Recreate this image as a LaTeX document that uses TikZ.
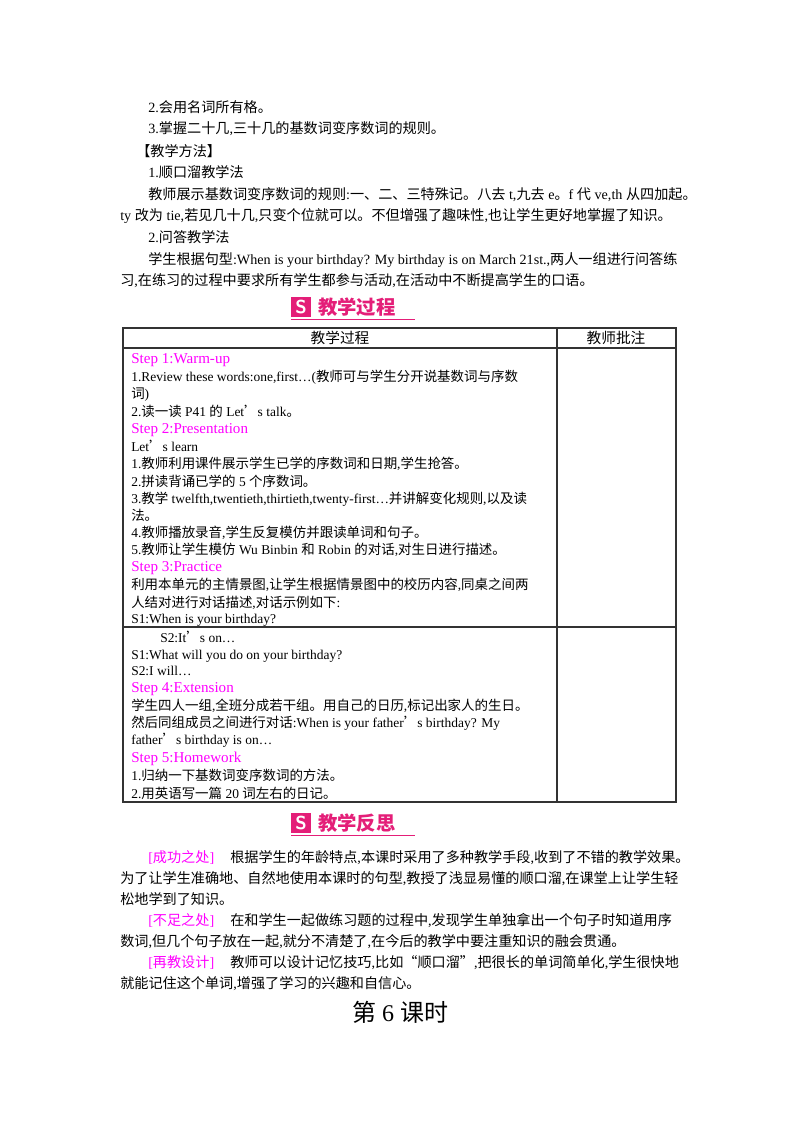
\documentclass[tikz,border=0pt]{standalone}
\usepackage{fontspec}
\setmainfont{Liberation Serif}
\newfontfamily\lat{Liberation Serif}
\newfontfamily\cjk{Noto Sans CJK SC}
\newcount\cc
\newXeTeXintercharclass\cjkcls
\cc="4E00 \loop \XeTeXcharclass\cc=\cjkcls \advance\cc 1 \ifnum\cc<"A000 \repeat
\cc="3000 \loop \XeTeXcharclass\cc=\cjkcls \advance\cc 1 \ifnum\cc<"3040 \repeat
\cc="FF00 \loop \XeTeXcharclass\cc=\cjkcls \advance\cc 1 \ifnum\cc<"FFF0 \repeat
\XeTeXcharclass"2018=\cjkcls \XeTeXcharclass"2019=\cjkcls
\XeTeXcharclass"201C=\cjkcls \XeTeXcharclass"201D=\cjkcls
\XeTeXinterchartoks 0 \cjkcls={\cjk}
\XeTeXinterchartoks 4095 \cjkcls={\cjk}
\XeTeXinterchartoks \cjkcls 0={\lat}
\XeTeXinterchartoks \cjkcls 4095={\lat}
\XeTeXinterchartokenstate=1
\definecolor{mag}{RGB}{255,0,255}
\definecolor{badge}{RGB}{228,30,120}
\tikzset{
 t/.style={anchor=base west,inner sep=0pt,font=\fontsize{10.6}{12}\selectfont},
 tt/.style={anchor=base west,inner sep=0pt,font=\fontsize{10.1}{11}\selectfont},
 st/.style={anchor=base west,inner sep=0pt,text=mag,font=\fontsize{11.3}{12}\selectfont},
 rule/.style={line width=0.8pt,draw=black!80},
}
\begin{document}
\begin{tikzpicture}[x=0.75pt,y=-0.75pt]
\useasboundingbox[fill=white] (0,0) rectangle (800,1132);
% intro
\node[t] (a1) at (148,112) {2.会用名词所有格。};
\node[t] (a2) at (148,133) {3.掌握二十几,三十几的基数词变序数词的规则。};
\node[t] (a3) at (136,156) {【教学方法】};
\node[t] (a4) at (148,177) {1.顺口溜教学法};
\node[t] (a5) at (148,199) {教师展示基数词变序数词的规则:一、二、三特殊记。八去 t,九去 e。f 代 ve,th 从四加起。};
\node[t] (a6) at (120,220) {ty 改为 tie,若见几十几,只变个位就可以。不但增强了趣味性,也让学生更好地掌握了知识。};
\node[t] (a7) at (148,242) {2.问答教学法};
\node[t] (a8) at (148,264) {学生根据句型:When is your birthday? My birthday is on March 21st.,两人一组进行问答练};
\node[t] (a9) at (120,285) {习,在练习的过程中要求所有学生都参与活动,在活动中不断提高学生的口语。};
% badge 1
\fill[badge] (291,297) rectangle (311,317);
\node[inner sep=0,text=white,font=\sffamily\bfseries\fontsize{14}{14}\selectfont] (b1i) at (301,307) {S};
\node[anchor=west,inner sep=0,text=badge,font=\bfseries\fontsize{14.5}{15}\selectfont] (b1t) at (318,307) {教学过程};
\draw[badge,line width=0.6pt] (291,319) -- (415,319);
% table
\draw[rule] (123,328) rectangle (676,802);
\draw[rule] (123,348) -- (676,348);
\draw[rule] (123,627) -- (676,627);
\draw[rule] (557,328) -- (557,802);
\node[font=\fontsize{11}{12}\selectfont,inner sep=0] (h1) at (340,338) {教学过程};
\node[font=\fontsize{11}{12}\selectfont,inner sep=0] (h2) at (616,338) {教师批注};
\node[st] (s1) at (131,363) {Step 1:Warm-up};
\node[tt] (r1) at (131,381) {1.Review these words:one,first…(教师可与学生分开说基数词与序数};
\node[tt] (r2) at (131,398) {词)};
\node[tt] (r3) at (131,416) {2.读一读 P41 的 Let’s talk。};
\node[st] (s2) at (131,433) {Step 2:Presentation};
\node[tt] (r4) at (131,451) {Let’s learn};
\node[tt] (r5) at (131,468) {1.教师利用课件展示学生已学的序数词和日期,学生抢答。};
\node[tt] (r6) at (131,486) {2.拼读背诵已学的 5 个序数词。};
\node[tt] (r7) at (131,503) {3.教学 twelfth,twentieth,thirtieth,twenty-first…并讲解变化规则,以及读};
\node[tt] (r8) at (131,520) {法。};
\node[tt] (r9) at (131,537) {4.教师播放录音,学生反复模仿并跟读单词和句子。};
\node[tt] (r10) at (131,554) {5.教师让学生模仿 Wu Binbin 和 Robin 的对话,对生日进行描述。};
\node[st] (s3) at (131,571) {Step 3:Practice};
\node[tt] (r11) at (131,589) {利用本单元的主情景图,让学生根据情景图中的校历内容,同桌之间两};
\node[tt] (r12) at (131,607) {人结对进行对话描述,对话示例如下:};
\node[tt] (r13) at (131,623) {S1:When is your birthday?};
\node[tt] (r14) at (160,642) {S2:It’s on…};
\node[tt] (r15) at (131,659) {S1:What will you do on your birthday?};
\node[tt] (r16) at (131,675) {S2:I will…};
\node[st] (s4) at (131,692) {Step 4:Extension};
\node[tt] (r17) at (131,710) {学生四人一组,全班分成若干组。用自己的日历,标记出家人的生日。};
\node[tt] (r18) at (131,727) {然后同组成员之间进行对话:When is your father’s birthday? My};
\node[tt] (r19) at (131,744) {father’s birthday is on…};
\node[st] (s5) at (131,762) {Step 5:Homework};
\node[tt] (r20) at (131,780) {1.归纳一下基数词变序数词的方法。};
\node[tt] (r21) at (131,798) {2.用英语写一篇 20 词左右的日记。};
% badge 2
\fill[badge] (291,813) rectangle (311,833);
\node[inner sep=0,text=white,font=\sffamily\bfseries\fontsize{14}{14}\selectfont] (b2i) at (301,823) {S};
\node[anchor=west,inner sep=0,text=badge,font=\bfseries\fontsize{14.5}{15}\selectfont] (b2t) at (318,823) {教学反思};
\draw[badge,line width=0.6pt] (291,835) -- (415,835);
% reflection
\node[t,text=mag] (c1) at (148,862) {[成功之处]};
\node[t] (c2) at (230,862) {根据学生的年龄特点,本课时采用了多种教学手段,收到了不错的教学效果。};
\node[t] (c3) at (120,883) {为了让学生准确地、自然地使用本课时的句型,教授了浅显易懂的顺口溜,在课堂上让学生轻};
\node[t] (c4) at (120,904) {松地学到了知识。};
\node[t,text=mag] (c5) at (148,925) {[不足之处]};
\node[t] (c6) at (230,925) {在和学生一起做练习题的过程中,发现学生单独拿出一个句子时知道用序};
\node[t] (c7) at (120,946) {数词,但几个句子放在一起,就分不清楚了,在今后的教学中要注重知识的融会贯通。};
\node[t,text=mag] (c8) at (148,967) {[再教设计]};
\node[t] (c9) at (230,967) {教师可以设计记忆技巧,比如“顺口溜”,把很长的单词简单化,学生很快地};
\node[t] (c10) at (120,988) {就能记住这个单词,增强了学习的兴趣和自信心。};
\node[inner sep=0,font=\fontsize{18}{20}\selectfont] (title) at (400,1012) {第 6 课时};
\end{tikzpicture}
\end{document}
